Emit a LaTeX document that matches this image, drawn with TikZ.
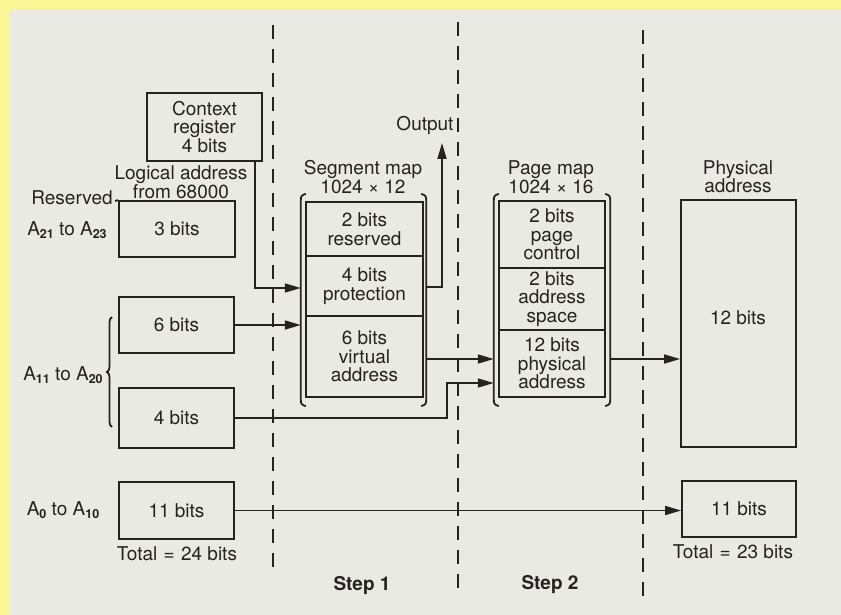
\documentclass[tikz,border=0pt]{standalone}
\usepackage{fontspec}
\setmainfont{TeX Gyre Heros}
\usetikzlibrary{arrows.meta,decorations.pathreplacing,calc}
\definecolor{ink}{RGB}{38,34,32}
\definecolor{paper}{RGB}{234,234,229}
\definecolor{yel}{RGB}{250,246,150}
\newcommand\mysub[1]{\raisebox{-0.35ex}{\fontsize{12.5}{12.5}\selectfont\bfseries #1}}
\begin{document}
\begin{tikzpicture}[x=1pt,y=-1pt,
  font=\fontsize{19}{18.5}\selectfont,
  every node/.style={text=ink},
  box/.style={draw=ink,line width=1.8pt,inner sep=0pt,align=center},
  wrap/.style={inner sep=0pt},
  lbl/.style={align=center,inner sep=0pt},
  ln/.style={draw=ink,line width=1.8pt},
  arr/.style={draw=ink,line width=1.7pt,-{Triangle[length=16pt,width=9pt]}},
  divider/.style={draw=ink,line width=1.5pt,dash pattern=on 14pt off 10pt},
  stepfont/.style={font=\fontsize{19}{18.5}\selectfont\bfseries}]
\useasboundingbox (0,0) rectangle (841,615);
\fill[yel] (-5,-5) rectangle (850,625);
\fill[paper] (10,10) rectangle (850,625);

% dashed step dividers
\draw[divider] (273,25) -- (273,573);
\draw[divider] (458,22) -- (458,593);
\draw[divider] (643,30) -- (643,598);

% logical address side
\node[box,minimum width=115pt,minimum height=68pt] (ctx) at (204.5,127) {Context\\register\\4 bits};
\node[lbl] (logical) at (181,182) {Logical address\\from 68000};
\node[lbl] (reserved) at (72,198) {Reserved};
\node[box,minimum width=116pt,minimum height=56pt] (res) at (177,229) {3 bits};
\draw[ln] (115,201) -- (res.north west);
\node[lbl] (a21) at (67,230) {A\mysub{21} to A\mysub{23}};
\node[box,minimum width=115pt,minimum height=56pt] (six) at (176.5,325) {6 bits};
\node[box,minimum width=115pt,minimum height=60pt] (four) at (176.5,418) {4 bits};
\node[lbl] (a11) at (63,375) {A\mysub{11} to A\mysub{20}};
\draw[ln,decorate,decoration={brace,amplitude=5pt}] (112,427) -- (112,317);
\node[box,minimum width=115pt,minimum height=57pt] (eleven) at (176.5,510.5) {11 bits};
\node[lbl] (a0) at (63,510) {A\mysub{0} to A\mysub{10}};
\node[lbl] (tot24) at (177,554) {Total\,\,=\,\,24 bits};

% segment map
\node[lbl] (segtitle) at (363,177) {Segment map\\1024 × 12};
\node[box,minimum width=117pt,minimum height=54pt] (segA) at (364.5,229) {2 bits\\reserved};
\node[box,minimum width=117pt,minimum height=60pt] (segB) at (364.5,286) {4 bits\\protection};
\node[box,minimum width=117pt,minimum height=81pt] (segC) at (364.5,356.5) {6 bits\\virtual\\address};
\node[wrap,minimum width=125pt,minimum height=212pt] (segwrap) at (363.5,300) {};
\draw[ln] ($(segwrap.north west)+(5,0)$) .. controls ($(segwrap.north west)+(0,2)$) .. ($(segwrap.north west)+(0,8)$)
  -- ($(segwrap.south west)+(0,-8)$) .. controls ($(segwrap.south west)+(0,-2)$) .. ($(segwrap.south west)+(5,0)$);
\draw[ln] ($(segwrap.north east)+(-5,0)$) .. controls ($(segwrap.north east)+(0,2)$) .. ($(segwrap.north east)+(0,8)$)
  -- ($(segwrap.south east)+(0,-8)$) .. controls ($(segwrap.south east)+(0,-2)$) .. ($(segwrap.south east)+(-5,0)$);

% page map
\node[lbl] (pgtitle) at (551,177) {Page map\\1024 × 16};
\node[box,minimum width=106pt,minimum height=67pt] (pgA) at (552,234.5) {2 bits\\page\\control};
\node[box,minimum width=106pt,minimum height=62pt] (pgB) at (552,299) {2 bits\\address\\space};
\node[box,minimum width=106pt,minimum height=67pt] (pgC) at (552,363.5) {12 bits\\physical\\address};
\node[wrap,minimum width=116pt,minimum height=212pt] (pagewrap) at (552,300) {};
\draw[ln] ($(pagewrap.north west)+(5,0)$) .. controls ($(pagewrap.north west)+(0,2)$) .. ($(pagewrap.north west)+(0,8)$)
  -- ($(pagewrap.south west)+(0,-8)$) .. controls ($(pagewrap.south west)+(0,-2)$) .. ($(pagewrap.south west)+(5,0)$);
\draw[ln] ($(pagewrap.north east)+(-5,0)$) .. controls ($(pagewrap.north east)+(0,2)$) .. ($(pagewrap.north east)+(0,8)$)
  -- ($(pagewrap.south east)+(0,-8)$) .. controls ($(pagewrap.south east)+(0,-2)$) .. ($(pagewrap.south east)+(-5,0)$);

% physical address
\node[lbl] (phystitle) at (738,176.5) {Physical\\address};
\node[box,minimum width=115pt,minimum height=247pt] (phys) at (738.5,323.5) {};
\node[lbl] (physlbl) at (738,318) {12 bits};
\node[box,minimum width=114pt,minimum height=56pt] (phys11) at (739,509) {11 bits};
\node[lbl] (tot23) at (733,552) {Total\,\,=\,\,23 bits};

% output
\node[lbl] (output) at (425,125) {Output};
\coordinate (outtip) at (442,143);

% steps
\node[lbl,stepfont] (step1) at (362,586) {Step 1};
\node[lbl,stepfont] (step2) at (550,585) {Step 2};

% connectors
\draw[arr] ([xshift=-8pt]ctx.south east) |- (segwrap.west |- 0,288);
\draw[arr] (six.east) -- (segwrap.west |- six.east);
\draw[arr] (segwrap.east |- 0,287) -| (outtip);
\coordinate (k4) at (447,383);
\draw[arr] (four.east) -| (k4) -- (pagewrap.west |- k4);
\draw[arr] (segwrap.east |- 0,359) -- (pagewrap.west |- 0,359);
\draw[arr] (pagewrap.east |- 0,359) -- (phys.west |- 0,359);
\draw[arr] (eleven.east) -- (phys11.west |- eleven.east);
\end{tikzpicture}
\end{document}
